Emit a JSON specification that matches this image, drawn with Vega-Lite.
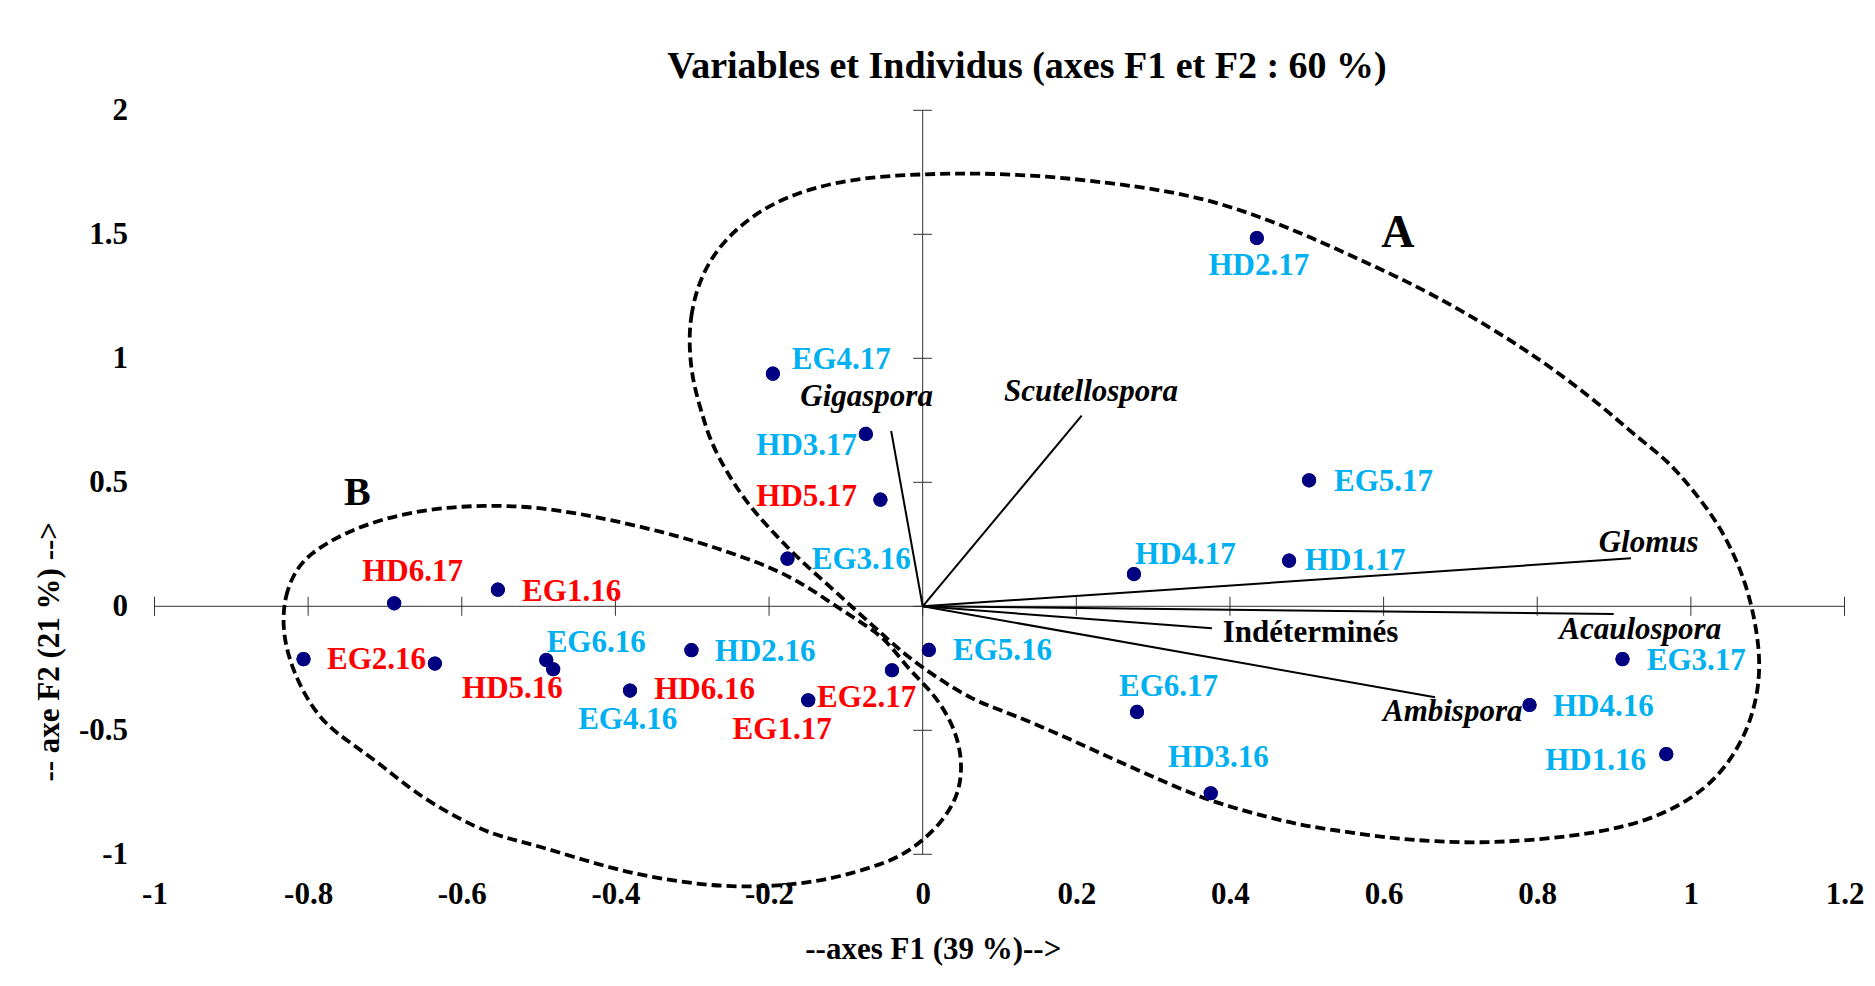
{
  "$schema": "https://vega.github.io/schema/vega-lite/v6.json",
  "width": 1690,
  "height": 744,
  "autosize": {"type": "none"},
  "padding": {"left": 154.5, "top": 110.3, "right": 30.5, "bottom": 131.7},
  "background": "white",
  "config": {"view": {"stroke": null}, "font": "Liberation Serif"},
  "title": {
    "text": "Variables et Individus (axes F1 et F2 : 60 %)",
    "font": "Liberation Serif",
    "fontSize": 38,
    "fontWeight": "bold",
    "color": "black",
    "anchor": "middle",
    "frame": "group",
    "dx": 27.5,
    "dy": 32,
    "offset": 10,
    "baseline": "alphabetic"
  },
  "datasets": {
    "individus": [
      {"id": "HD2.17", "f1": 0.435, "f2": 1.485, "lx": 0.4375, "ly": 1.371, "classe": "1"},
      {"id": "EG4.17", "f1": -0.195, "f2": 0.938, "lx": -0.106, "ly": 0.992, "classe": "1"},
      {"id": "HD3.17", "f1": -0.074, "f2": 0.695, "lx": -0.151, "ly": 0.646, "classe": "1"},
      {"id": "HD5.17", "f1": -0.055, "f2": 0.43, "lx": -0.151, "ly": 0.439, "classe": "2"},
      {"id": "EG5.17", "f1": 0.503, "f2": 0.508, "lx": 0.6, "ly": 0.5, "classe": "1"},
      {"id": "EG3.16", "f1": -0.176, "f2": 0.192, "lx": -0.08, "ly": 0.186, "classe": "1"},
      {"id": "HD4.17", "f1": 0.275, "f2": 0.13, "lx": 0.342, "ly": 0.206, "classe": "1"},
      {"id": "HD1.17", "f1": 0.477, "f2": 0.184, "lx": 0.563, "ly": 0.184, "classe": "1"},
      {"id": "HD6.17", "f1": -0.688, "f2": 0.012, "lx": -0.664, "ly": 0.14, "classe": "2"},
      {"id": "EG1.16", "f1": -0.553, "f2": 0.067, "lx": -0.457, "ly": 0.059, "classe": "2"},
      {"id": "EG2.16", "f1": -0.806, "f2": -0.213, "lx": -0.711, "ly": -0.217, "classe": "2"},
      {"id": "HD5.16", "f1": -0.635, "f2": -0.231, "lx": -0.534, "ly": -0.333, "classe": "2"},
      {"id": "EG6.16", "f1": -0.49, "f2": -0.217, "lx": -0.425, "ly": -0.146, "classe": "1"},
      {"id": "EG4.16", "f1": -0.481, "f2": -0.254, "lx": -0.384, "ly": -0.457, "classe": "1"},
      {"id": "HD2.16", "f1": -0.301, "f2": -0.177, "lx": -0.205, "ly": -0.184, "classe": "1"},
      {"id": "HD6.16", "f1": -0.381, "f2": -0.34, "lx": -0.284, "ly": -0.339, "classe": "2"},
      {"id": "EG2.17", "f1": -0.149, "f2": -0.379, "lx": -0.073, "ly": -0.368, "classe": "2"},
      {"id": "EG1.17", "f1": -0.04, "f2": -0.258, "lx": -0.183, "ly": -0.499, "classe": "2"},
      {"id": "EG5.16", "f1": 0.008, "f2": -0.176, "lx": 0.104, "ly": -0.182, "classe": "1"},
      {"id": "EG6.17", "f1": 0.279, "f2": -0.426, "lx": 0.32, "ly": -0.327, "classe": "1"},
      {"id": "HD3.16", "f1": 0.375, "f2": -0.754, "lx": 0.385, "ly": -0.613, "classe": "1"},
      {"id": "EG3.17", "f1": 0.911, "f2": -0.213, "lx": 1.007, "ly": -0.221, "classe": "1"},
      {"id": "HD4.16", "f1": 0.79, "f2": -0.398, "lx": 0.886, "ly": -0.406, "classe": "1"},
      {"id": "HD1.16", "f1": 0.968, "f2": -0.596, "lx": 0.876, "ly": -0.623, "classe": "1"}
    ],
    "variables": [
      {"var": "Gigaspora", "f1": -0.041, "f2": 0.707, "lx": -0.073, "ly": 0.845},
      {"var": "Scutellospora", "f1": 0.207, "f2": 0.769, "lx": 0.219, "ly": 0.865},
      {"var": "Glomus", "f1": 0.922, "f2": 0.1935, "lx": 0.945, "ly": 0.254},
      {"var": "Acaulospora", "f1": 0.8995, "f2": -0.031, "lx": 0.934, "ly": -0.096},
      {"var": "Indéterminés", "f1": 0.3765, "f2": -0.0887, "lx": 0.505, "ly": -0.106},
      {"var": "Ambispora", "f1": 0.667, "f2": -0.367, "lx": 0.69, "ly": -0.428}
    ],
    "vecteurs": [
      {"var": "Gigaspora", "f1": 0, "f2": 0}, {"var": "Gigaspora", "f1": -0.041, "f2": 0.707},
      {"var": "Scutellospora", "f1": 0, "f2": 0}, {"var": "Scutellospora", "f1": 0.207, "f2": 0.769},
      {"var": "Glomus", "f1": 0, "f2": 0}, {"var": "Glomus", "f1": 0.922, "f2": 0.1935},
      {"var": "Acaulospora", "f1": 0, "f2": 0}, {"var": "Acaulospora", "f1": 0.8995, "f2": -0.031},
      {"var": "Indéterminés", "f1": 0, "f2": 0}, {"var": "Indéterminés", "f1": 0.3765, "f2": -0.0887},
      {"var": "Ambispora", "f1": 0, "f2": 0}, {"var": "Ambispora", "f1": 0.667, "f2": -0.367}
    ],
    "groupes": [
      {"g": "A", "f1": 0.6185, "f2": 1.506},
      {"g": "B", "f1": -0.736, "f2": 0.457}
    ],
    "contours": [
      {"e": "A", "i": 0, "f1": -0.304, "f2": 1.034},
      {"e": "A", "i": 1, "f1": -0.303, "f2": 1.167},
      {"e": "A", "i": 2, "f1": -0.29, "f2": 1.328},
      {"e": "A", "i": 3, "f1": -0.26, "f2": 1.477},
      {"e": "A", "i": 4, "f1": -0.208, "f2": 1.61},
      {"e": "A", "i": 5, "f1": -0.143, "f2": 1.691},
      {"e": "A", "i": 6, "f1": -0.072, "f2": 1.731},
      {"e": "A", "i": 7, "f1": 0.001, "f2": 1.743},
      {"e": "A", "i": 8, "f1": 0.075, "f2": 1.747},
      {"e": "A", "i": 9, "f1": 0.162, "f2": 1.735},
      {"e": "A", "i": 10, "f1": 0.244, "f2": 1.707},
      {"e": "A", "i": 11, "f1": 0.309, "f2": 1.679},
      {"e": "A", "i": 12, "f1": 0.374, "f2": 1.638},
      {"e": "A", "i": 13, "f1": 0.44, "f2": 1.57},
      {"e": "A", "i": 14, "f1": 0.505, "f2": 1.489},
      {"e": "A", "i": 15, "f1": 0.57, "f2": 1.396},
      {"e": "A", "i": 16, "f1": 0.635, "f2": 1.304},
      {"e": "A", "i": 17, "f1": 0.7, "f2": 1.195},
      {"e": "A", "i": 18, "f1": 0.765, "f2": 1.074},
      {"e": "A", "i": 19, "f1": 0.817, "f2": 0.965},
      {"e": "A", "i": 20, "f1": 0.878, "f2": 0.824},
      {"e": "A", "i": 21, "f1": 0.934, "f2": 0.671},
      {"e": "A", "i": 22, "f1": 0.969, "f2": 0.59},
      {"e": "A", "i": 23, "f1": 1.003, "f2": 0.469},
      {"e": "A", "i": 24, "f1": 1.035, "f2": 0.336},
      {"e": "A", "i": 25, "f1": 1.058, "f2": 0.199},
      {"e": "A", "i": 26, "f1": 1.074, "f2": 0.066},
      {"e": "A", "i": 27, "f1": 1.084, "f2": -0.067},
      {"e": "A", "i": 28, "f1": 1.09, "f2": -0.204},
      {"e": "A", "i": 29, "f1": 1.088, "f2": -0.337},
      {"e": "A", "i": 30, "f1": 1.077, "f2": -0.47},
      {"e": "A", "i": 31, "f1": 1.06, "f2": -0.579},
      {"e": "A", "i": 32, "f1": 1.035, "f2": -0.688},
      {"e": "A", "i": 33, "f1": 0.999, "f2": -0.781},
      {"e": "A", "i": 34, "f1": 0.947, "f2": -0.862},
      {"e": "A", "i": 35, "f1": 0.878, "f2": -0.914},
      {"e": "A", "i": 36, "f1": 0.8, "f2": -0.942},
      {"e": "A", "i": 37, "f1": 0.722, "f2": -0.955},
      {"e": "A", "i": 38, "f1": 0.665, "f2": -0.947},
      {"e": "A", "i": 39, "f1": 0.622, "f2": -0.939},
      {"e": "A", "i": 40, "f1": 0.579, "f2": -0.922},
      {"e": "A", "i": 41, "f1": 0.534, "f2": -0.902},
      {"e": "A", "i": 42, "f1": 0.492, "f2": -0.882},
      {"e": "A", "i": 43, "f1": 0.449, "f2": -0.85},
      {"e": "A", "i": 44, "f1": 0.404, "f2": -0.812},
      {"e": "A", "i": 45, "f1": 0.361, "f2": -0.769},
      {"e": "A", "i": 46, "f1": 0.318, "f2": -0.712},
      {"e": "A", "i": 47, "f1": 0.274, "f2": -0.652},
      {"e": "A", "i": 48, "f1": 0.231, "f2": -0.592},
      {"e": "A", "i": 49, "f1": 0.188, "f2": -0.531},
      {"e": "A", "i": 50, "f1": 0.144, "f2": -0.471},
      {"e": "A", "i": 51, "f1": 0.101, "f2": -0.418},
      {"e": "A", "i": 52, "f1": 0.066, "f2": -0.378},
      {"e": "A", "i": 53, "f1": 0.023, "f2": -0.297},
      {"e": "A", "i": 54, "f1": -0.02, "f2": -0.204},
      {"e": "A", "i": 55, "f1": -0.051, "f2": -0.116},
      {"e": "A", "i": 56, "f1": -0.085, "f2": -0.023},
      {"e": "A", "i": 57, "f1": -0.12, "f2": 0.078},
      {"e": "A", "i": 58, "f1": -0.156, "f2": 0.175},
      {"e": "A", "i": 59, "f1": -0.189, "f2": 0.279},
      {"e": "A", "i": 60, "f1": -0.225, "f2": 0.4},
      {"e": "A", "i": 61, "f1": -0.255, "f2": 0.538},
      {"e": "A", "i": 62, "f1": -0.277, "f2": 0.671},
      {"e": "A", "i": 63, "f1": -0.286, "f2": 0.764},
      {"e": "A", "i": 64, "f1": -0.299, "f2": 0.9},
      {"e": "B", "i": 0, "f1": -0.833, "f2": -0.055},
      {"e": "B", "i": 1, "f1": -0.83, "f2": 0.039},
      {"e": "B", "i": 2, "f1": -0.819, "f2": 0.133},
      {"e": "B", "i": 3, "f1": -0.798, "f2": 0.214},
      {"e": "B", "i": 4, "f1": -0.754, "f2": 0.294},
      {"e": "B", "i": 5, "f1": -0.702, "f2": 0.355},
      {"e": "B", "i": 6, "f1": -0.637, "f2": 0.395},
      {"e": "B", "i": 7, "f1": -0.572, "f2": 0.408},
      {"e": "B", "i": 8, "f1": -0.507, "f2": 0.402},
      {"e": "B", "i": 9, "f1": -0.433, "f2": 0.368},
      {"e": "B", "i": 10, "f1": -0.329, "f2": 0.294},
      {"e": "B", "i": 11, "f1": -0.264, "f2": 0.231},
      {"e": "B", "i": 12, "f1": -0.199, "f2": 0.16},
      {"e": "B", "i": 13, "f1": -0.153, "f2": 0.086},
      {"e": "B", "i": 14, "f1": -0.112, "f2": -0.002},
      {"e": "B", "i": 15, "f1": -0.075, "f2": -0.075},
      {"e": "B", "i": 16, "f1": -0.047, "f2": -0.136},
      {"e": "B", "i": 17, "f1": -0.021, "f2": -0.244},
      {"e": "B", "i": 18, "f1": 0.005, "f2": -0.324},
      {"e": "B", "i": 19, "f1": 0.023, "f2": -0.391},
      {"e": "B", "i": 20, "f1": 0.04, "f2": -0.485},
      {"e": "B", "i": 21, "f1": 0.049, "f2": -0.579},
      {"e": "B", "i": 22, "f1": 0.051, "f2": -0.673},
      {"e": "B", "i": 23, "f1": 0.045, "f2": -0.768},
      {"e": "B", "i": 24, "f1": 0.027, "f2": -0.862},
      {"e": "B", "i": 25, "f1": 0.001, "f2": -0.943},
      {"e": "B", "i": 26, "f1": -0.029, "f2": -1.01},
      {"e": "B", "i": 27, "f1": -0.064, "f2": -1.05},
      {"e": "B", "i": 28, "f1": -0.107, "f2": -1.09},
      {"e": "B", "i": 29, "f1": -0.151, "f2": -1.115},
      {"e": "B", "i": 30, "f1": -0.194, "f2": -1.128},
      {"e": "B", "i": 31, "f1": -0.238, "f2": -1.131},
      {"e": "B", "i": 32, "f1": -0.281, "f2": -1.124},
      {"e": "B", "i": 33, "f1": -0.324, "f2": -1.106},
      {"e": "B", "i": 34, "f1": -0.368, "f2": -1.083},
      {"e": "B", "i": 35, "f1": -0.411, "f2": -1.05},
      {"e": "B", "i": 36, "f1": -0.455, "f2": -1.01},
      {"e": "B", "i": 37, "f1": -0.498, "f2": -0.969},
      {"e": "B", "i": 38, "f1": -0.537, "f2": -0.938},
      {"e": "B", "i": 39, "f1": -0.577, "f2": -0.902},
      {"e": "B", "i": 40, "f1": -0.655, "f2": -0.768},
      {"e": "B", "i": 41, "f1": -0.696, "f2": -0.66},
      {"e": "B", "i": 42, "f1": -0.743, "f2": -0.555},
      {"e": "B", "i": 43, "f1": -0.78, "f2": -0.472},
      {"e": "B", "i": 44, "f1": -0.806, "f2": -0.351},
      {"e": "B", "i": 45, "f1": -0.821, "f2": -0.244},
      {"e": "B", "i": 46, "f1": -0.83, "f2": -0.149}
    ],
    "graduationsF1": [
      {"t": -1, "o": 0}, {"t": -0.8, "o": 0}, {"t": -0.6, "o": 0}, {"t": -0.4, "o": 0},
      {"t": -0.2, "o": 0}, {"t": 0, "o": 0}, {"t": 0.2, "o": 0}, {"t": 0.4, "o": 0},
      {"t": 0.6, "o": 0}, {"t": 0.8, "o": 0}, {"t": 1, "o": 0}, {"t": 1.2, "o": 0}
    ],
    "graduationsF2": [
      {"t": -1, "o": 0}, {"t": -0.5, "o": 0}, {"t": 0, "o": 0}, {"t": 0.5, "o": 0},
      {"t": 1, "o": 0}, {"t": 1.5, "o": 0}, {"t": 2, "o": 0}
    ]
  },
  "layer": [
    {
      "data": {"name": "individus"},
      "mark": {"type": "circle", "size": 200, "opacity": 1, "color": "#000080"},
      "encoding": {
        "x": {
          "field": "f1",
          "type": "quantitative",
          "scale": {"domain": [-1, 1.2], "nice": false, "zero": false},
          "axis": {
            "title": "--axes F1 (39 %)-->",
            "values": [-1, -0.8, -0.6, -0.4, -0.2, 0, 0.2, 0.4, 0.6, 0.8, 1, 1.2],
            "labelExpr": "'' + datum.value",
            "domain": false,
            "ticks": false,
            "grid": false,
            "labelFlush": false,
            "labelOverlap": false,
            "labelFont": "Liberation Serif",
            "labelFontSize": 31,
            "labelFontWeight": "bold",
            "labelColor": "black",
            "labelPadding": 25,
            "titleFont": "Liberation Serif",
            "titleFontSize": 31,
            "titleFontWeight": "bold",
            "titleColor": "black",
            "titleX": 778.3,
            "titleY": 95,
            "titleAlign": "center",
            "titleBaseline": "middle"
          }
        },
        "y": {
          "field": "f2",
          "type": "quantitative",
          "scale": {"domain": [-1, 2], "nice": false, "zero": false},
          "axis": {
            "title": "-- axe F2 (21 %) -->",
            "values": [-1, -0.5, 0, 0.5, 1, 1.5, 2],
            "labelExpr": "'' + datum.value",
            "domain": false,
            "ticks": false,
            "grid": false,
            "labelFlush": false,
            "labelOverlap": false,
            "labelFont": "Liberation Serif",
            "labelFontSize": 31,
            "labelFontWeight": "bold",
            "labelColor": "black",
            "labelPadding": 27,
            "titleFont": "Liberation Serif",
            "titleFontSize": 31,
            "titleFontWeight": "bold",
            "titleColor": "black",
            "titleX": -105,
            "titleY": 541,
            "titleAngle": 270,
            "titleAlign": "center",
            "titleBaseline": "middle"
          }
        }
      }
    },
    {
      "data": {"values": [{}]},
      "mark": {"type": "rule", "color": "#333333", "strokeWidth": 1},
      "encoding": {"y": {"datum": 0}}
    },
    {
      "data": {"values": [{}]},
      "mark": {"type": "rule", "color": "#333333", "strokeWidth": 1},
      "encoding": {"x": {"datum": 0}}
    },
    {
      "data": {"name": "graduationsF1"},
      "mark": {"type": "tick", "orient": "vertical", "size": 19, "thickness": 1, "color": "#333333", "opacity": 1},
      "encoding": {
        "x": {"field": "t", "type": "quantitative"},
        "y": {"field": "o", "type": "quantitative"}
      }
    },
    {
      "data": {"name": "graduationsF2"},
      "mark": {"type": "tick", "orient": "horizontal", "size": 19, "thickness": 1, "color": "#333333", "opacity": 1},
      "encoding": {
        "y": {"field": "t", "type": "quantitative"},
        "x": {"field": "o", "type": "quantitative"}
      }
    },
    {
      "data": {"name": "contours"},
      "mark": {"type": "line", "interpolate": "basis-closed", "color": "black", "strokeWidth": 3.8, "strokeDash": [10, 5], "clip": false},
      "encoding": {
        "x": {"field": "f1", "type": "quantitative"},
        "y": {"field": "f2", "type": "quantitative"},
        "detail": {"field": "e"},
        "order": {"field": "i", "type": "quantitative"}
      }
    },
    {
      "data": {"name": "vecteurs"},
      "mark": {"type": "line", "color": "black", "strokeWidth": 2},
      "encoding": {
        "x": {"field": "f1", "type": "quantitative"},
        "y": {"field": "f2", "type": "quantitative"},
        "detail": {"field": "var"}
      }
    },
    {
      "data": {"name": "individus"},
      "mark": {"type": "circle", "size": 200, "opacity": 1, "color": "#000080"},
      "encoding": {
        "x": {"field": "f1", "type": "quantitative"},
        "y": {"field": "f2", "type": "quantitative"}
      }
    },
    {
      "data": {"name": "individus"},
      "mark": {"type": "text", "font": "Liberation Serif", "fontSize": 31, "fontWeight": "bold", "align": "center", "baseline": "middle"},
      "encoding": {
        "x": {"field": "lx", "type": "quantitative"},
        "y": {"field": "ly", "type": "quantitative"},
        "text": {"field": "id"},
        "color": {"field": "classe", "type": "nominal", "scale": {"domain": ["1", "2"], "range": ["#00B0F0", "#FF0000"]}, "legend": null}
      }
    },
    {
      "data": {"name": "variables"},
      "transform": [{"filter": "datum.var !== 'Indéterminés'"}],
      "mark": {"type": "text", "font": "Liberation Serif", "fontSize": 31, "fontWeight": "bold", "fontStyle": "italic", "align": "center", "baseline": "middle", "color": "black"},
      "encoding": {
        "x": {"field": "lx", "type": "quantitative"},
        "y": {"field": "ly", "type": "quantitative"},
        "text": {"field": "var"}
      }
    },
    {
      "data": {"name": "variables"},
      "transform": [{"filter": "datum.var === 'Indéterminés'"}],
      "mark": {"type": "text", "font": "Liberation Serif", "fontSize": 31, "fontWeight": "bold", "align": "center", "baseline": "middle", "color": "black"},
      "encoding": {
        "x": {"field": "lx", "type": "quantitative"},
        "y": {"field": "ly", "type": "quantitative"},
        "text": {"field": "var"}
      }
    },
    {
      "data": {"name": "groupes"},
      "transform": [{"filter": "datum.g === 'A'"}],
      "mark": {"type": "text", "font": "Liberation Serif", "fontSize": 46, "fontWeight": "bold", "align": "center", "baseline": "middle", "color": "black"},
      "encoding": {
        "x": {"field": "f1", "type": "quantitative"},
        "y": {"field": "f2", "type": "quantitative"},
        "text": {"field": "g"}
      }
    },
    {
      "data": {"name": "groupes"},
      "transform": [{"filter": "datum.g === 'B'"}],
      "mark": {"type": "text", "font": "Liberation Serif", "fontSize": 40, "fontWeight": "bold", "align": "center", "baseline": "middle", "color": "black"},
      "encoding": {
        "x": {"field": "f1", "type": "quantitative"},
        "y": {"field": "f2", "type": "quantitative"},
        "text": {"field": "g"}
      }
    }
  ]
}
